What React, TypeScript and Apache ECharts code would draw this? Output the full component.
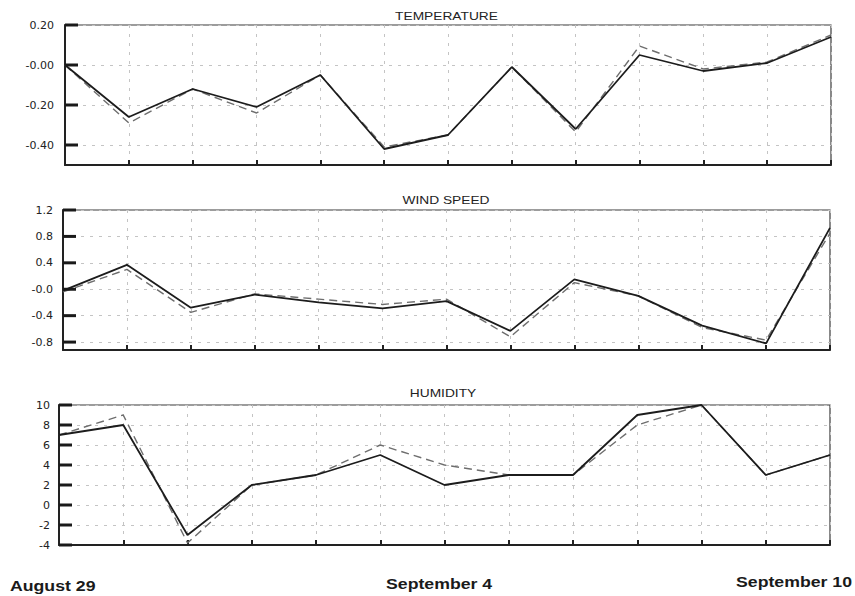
import React, { useEffect, useRef } from "react";
import * as echarts from "echarts";

// Daily observations, August 29 – September 10
const dates = [
  "Aug 29", "Aug 30", "Aug 31", "Sep 1", "Sep 2", "Sep 3", "Sep 4",
  "Sep 5", "Sep 6", "Sep 7", "Sep 8", "Sep 9", "Sep 10",
];

const temperatureSolid = [0.0, -0.26, -0.12, -0.21, -0.05, -0.42, -0.35, -0.01, -0.32, 0.05, -0.03, 0.01, 0.14];
const temperatureDashed = [0.0, -0.29, -0.12, -0.24, -0.05, -0.41, -0.35, -0.01, -0.335, 0.095, -0.02, 0.015, 0.15];

const windSolid = [-0.02, 0.37, -0.28, -0.08, -0.2, -0.29, -0.18, -0.63, 0.15, -0.1, -0.55, -0.82, 0.93];
const windDashed = [-0.04, 0.3, -0.35, -0.07, -0.15, -0.23, -0.15, -0.72, 0.1, -0.1, -0.58, -0.77, 0.85];

const humiditySolid = [7, 8, -3, 2, 3, 5, 2, 3, 3, 9, 10, 3, 5];
const humidityDashed = [7, 9, -3.8, 2, 3, 6, 4, 3, 3, 8, 10, 3, 5];

const panelTitles = ["TEMPERATURE", "WIND SPEED", "HUMIDITY"];
const dateLabels = ["August 29", "September 4", "September 10"];

// [min, max, step] of each panel's value axis
const yRanges = [
  [-0.5, 0.2, 0.2],
  [-0.92, 1.2, 0.4],
  [-4, 10, 2],
];

const tempLabel = (v: number) => {
  if (v < -0.45) return "";
  if (Math.abs(v) < 1e-9) return "-0.00";
  return v.toFixed(2);
};
const windLabel = (v: number) => {
  if (v < -0.85) return "";
  if (Math.abs(v) < 1e-9) return "-0.0";
  return v.toFixed(1);
};
const humidityLabel = (v: number) => String(Math.round(v));

const panels = [
  { left: 65, width: 766, top: 25, height: 140, titleX: 446.5, titleY: 16, fmt: tempLabel, margin: 11 },
  { left: 63, width: 767, top: 210, height: 140, titleX: 446, titleY: 200, fmt: windLabel, margin: 10 },
  { left: 59, width: 771, top: 405, height: 140, titleX: 443, titleY: 393, fmt: humidityLabel, margin: 9 },
];

const seriesPairs = [
  [temperatureSolid, temperatureDashed],
  [windSolid, windDashed],
  [humiditySolid, humidityDashed],
];

// Major tick values of a value axis: multiples of step inside [min, max]
function majorTicks([min, max, step]: number[]) {
  const out: number[] = [];
  const first = Math.ceil(min / step - 1e-9);
  const last = Math.floor(max / step + 1e-9);
  for (let k = first; k <= last; k++) out.push(Math.round(k * step * 1000) / 1000);
  return out;
}

export default function App() {
  const ref = useRef<HTMLDivElement>(null);

  useEffect(() => {
    if (!ref.current) return;
    const chart = echarts.init(ref.current, null, { renderer: "svg" });

    const grid = panels.map((p) => ({
      left: p.left,
      top: p.top,
      width: p.width,
      height: p.height,
      show: true,
      borderColor: "#3a3a3a",
      borderWidth: 1.2,
      backgroundColor: "transparent",
    }));

    const xAxis = panels.map((_, i) => ({
      gridIndex: i,
      type: "category",
      data: dates,
      boundaryGap: false,
      axisLine: { show: true, onZero: false, lineStyle: { color: "#222", width: 2 } },
      axisTick: { show: true, inside: true, length: 5, interval: 0, lineStyle: { color: "#222", width: 2 } },
      axisLabel: { show: false },
      splitLine: { show: true, interval: 0, lineStyle: { color: "#c4c4c4", width: 1, type: [3, 6] } },
    }));

    const yAxis = panels.map((p, i) => ({
      gridIndex: i,
      type: "value",
      min: yRanges[i][0],
      max: yRanges[i][1],
      minInterval: yRanges[i][2],
      maxInterval: yRanges[i][2],
      axisLine: { show: true, onZero: false, lineStyle: { color: "#222", width: 2 } },
      axisTick: { show: false },
      axisLabel: {
        formatter: p.fmt,
        color: "#222",
        fontFamily: "DejaVu Sans",
        fontSize: 11,
        margin: p.margin,
      },
      splitLine: { show: true, lineStyle: { color: "#c4c4c4", width: 1, type: [3, 6] } },
    }));

    const series: any[] = [];
    seriesPairs.forEach(([solid, dashed], i) => {
      series.push({
        type: "line",
        xAxisIndex: i,
        yAxisIndex: i,
        data: dashed,
        symbol: "none",
        silent: true,
        z: 2,
        lineStyle: { color: "#6e6e6e", width: 1.4, type: [8, 5] },
      });
      series.push({
        type: "line",
        xAxisIndex: i,
        yAxisIndex: i,
        data: solid,
        symbol: "none",
        silent: true,
        z: 3,
        lineStyle: { color: "#1c1c1c", width: 1.8 },
      });
      // heavy inward tick marks on the value axis
      series.push({
        type: "custom",
        xAxisIndex: i,
        yAxisIndex: i,
        silent: true,
        clip: false,
        z: 4,
        data: majorTicks(yRanges[i]).map((v) => [0, v]),
        encode: { x: 0, y: 1 },
        renderItem: (_params: any, api: any) => {
          const p = api.coord([0, api.value(1)]);
          return {
            type: "line",
            shape: { x1: p[0], y1: p[1], x2: p[0] + 13, y2: p[1] },
            style: { stroke: "#1a1a1a", lineWidth: 3 },
          };
        },
      });
    });

    const titleTexts = panels.map((p, i) => ({
      type: "text",
      x: p.titleX,
      y: p.titleY,
      scaleX: 1.25,
      style: {
        text: panelTitles[i],
        font: '11px "Liberation Sans", Arial, sans-serif',
        fill: "#222",
        align: "center",
        verticalAlign: "middle",
      },
    }));

    const datePlacement = [
      { x: 10, y: 585.5, align: "left" },
      { x: 386, y: 584, align: "left" },
      { x: 852, y: 581.5, align: "right" },
    ];
    const dateTexts = dateLabels.map((label, i) => ({
      type: "text",
      x: datePlacement[i].x,
      y: datePlacement[i].y,
      scaleX: 1.18,
      style: {
        text: label,
        font: 'bold 15px "Liberation Sans", Arial, sans-serif',
        fill: "#1a1a1a",
        align: datePlacement[i].align,
        verticalAlign: "middle",
      },
    }));

    chart.setOption({
      animation: false,
      backgroundColor: "#fff",
      grid,
      xAxis,
      yAxis,
      series,
      graphic: [...titleTexts, ...dateTexts],
    });

    return () => chart.dispose();
  }, []);

  return (
    <div
      ref={ref}
      style={{ position: "fixed", left: 0, top: 0, width: 855, height: 596, background: "#fff" }}
    />
  );
}
